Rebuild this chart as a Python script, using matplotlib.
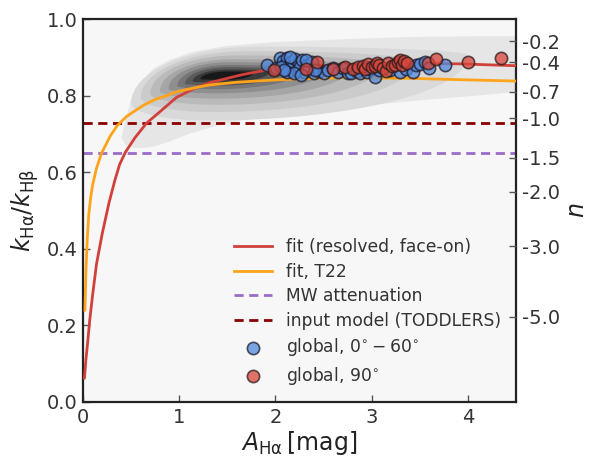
import numpy as np
import matplotlib
matplotlib.use("Agg")
import matplotlib.pyplot as plt
from matplotlib.path import Path
from matplotlib.patches import PathPatch, Polygon

plt.rcParams['font.family'] = ['DejaVu Sans']
plt.rcParams['mathtext.fontset'] = 'dejavusans'

# ---------------- data ----------------
# fitted relations k_Ha/k_Hb vs A_Ha
fit_resolved_x = [0.015, 0.03, 0.05, 0.07, 0.10, 0.14, 0.20, 0.27, 0.33, 0.38, 0.44, 0.54,
                  0.66, 0.80, 0.97, 1.15, 1.32, 1.66, 1.87, 2.2, 2.6, 3.0, 3.5, 3.9, 4.5]
fit_resolved_y = [0.063, 0.11, 0.16, 0.214, 0.28, 0.36, 0.44, 0.52, 0.578, 0.62, 0.652, 0.69,
                  0.728, 0.758, 0.795, 0.818, 0.834, 0.855, 0.865, 0.874, 0.880, 0.883, 0.884, 0.883, 0.878]

fit_t22_x = [0.02, 0.03, 0.045, 0.06, 0.08, 0.10, 0.14, 0.19, 0.28, 0.35, 0.45, 0.52, 0.63,
             0.75, 0.87, 0.97, 1.21, 1.32, 1.6, 2.0, 2.4, 2.7, 3.0, 3.4, 4.0, 4.5]
fit_t22_y = [0.24, 0.34, 0.43, 0.49, 0.535, 0.567, 0.61, 0.648, 0.693, 0.72, 0.745, 0.757, 0.775,
             0.79, 0.80, 0.81, 0.823, 0.828, 0.835, 0.841, 0.845, 0.847, 0.846, 0.845, 0.841, 0.838]

mw_ratio = 0.65          # MW attenuation
toddlers_ratio = 0.728   # input model (TODDLERS)

# global measurements, inclinations 0-60 deg
glob_lo_x = [1.91, 2.01, 2.05, 2.08, 2.10, 2.12, 2.14, 2.16, 2.18, 2.20, 2.22, 2.24, 2.26, 2.28,
             2.30, 2.33, 2.35, 2.38, 2.40, 2.06, 2.12, 2.19, 2.27, 2.15, 2.09, 2.45, 2.50, 2.55,
             2.60, 2.65, 2.70, 2.75, 2.79, 2.85, 2.88, 2.95, 2.98, 3.03, 3.08, 3.19, 3.29, 3.36,
             3.43, 3.46, 3.50, 3.55, 3.60, 3.76, 2.32, 2.41]
glob_lo_y = [0.880, 0.871, 0.897, 0.890, 0.880, 0.898, 0.872, 0.887, 0.878, 0.895, 0.865, 0.885,
             0.875, 0.892, 0.862, 0.880, 0.870, 0.888, 0.860, 0.875, 0.862, 0.858, 0.855, 0.900,
             0.868, 0.865, 0.858, 0.868, 0.871, 0.862, 0.871, 0.860, 0.858, 0.865, 0.858, 0.862,
             0.870, 0.849, 0.866, 0.867, 0.862, 0.870, 0.862, 0.880, 0.882, 0.889, 0.871, 0.880,
             0.893, 0.867]

# global measurements, edge-on (90 deg)
glob_hi_x = [1.99, 2.32, 2.43, 2.60, 2.72, 2.81, 2.86, 2.91, 2.93, 2.96, 3.00, 3.03, 3.06, 3.08,
             3.12, 3.15, 3.17, 3.21, 3.24, 3.27, 3.29, 3.31, 3.34, 3.37, 3.59, 3.67, 4.00, 4.34]
glob_hi_y = [0.868, 0.869, 0.887, 0.869, 0.874, 0.869, 0.875, 0.876, 0.870, 0.882, 0.874, 0.878,
             0.884, 0.880, 0.872, 0.865, 0.884, 0.878, 0.881, 0.887, 0.893, 0.879, 0.890, 0.885,
             0.884, 0.895, 0.889, 0.897]

# density of resolved pixels: outermost contour outline
kde_outer_x = [0.40, 0.44, 0.52, 0.62, 0.75, 0.90, 1.10, 1.40, 1.75, 2.10, 2.60, 3.10, 3.60, 4.10, 4.60,
               4.60, 4.10, 3.40, 2.80, 2.00, 1.50, 1.14, 0.90, 0.73, 0.60, 0.50, 0.44]
kde_outer_y = [0.690, 0.672, 0.664, 0.663, 0.668, 0.680, 0.700, 0.722, 0.740, 0.752, 0.765, 0.778,
               0.790, 0.800, 0.812, 0.955, 0.955, 0.953, 0.948, 0.940, 0.930, 0.914, 0.893, 0.870,
               0.835, 0.790, 0.735]

# inner contour levels: left tip, right tip, highest and lowest points
kde_left_x = [0.50, 0.60, 0.70, 0.80, 0.89, 0.98, 1.06, 1.14, 1.22]
kde_left_y = [0.780, 0.795, 0.805, 0.812, 0.818, 0.825, 0.831, 0.837, 0.843]
kde_right_x = [4.00, 3.45, 3.10, 2.80, 2.55, 2.30, 2.10, 1.95, 1.78]
kde_right_y = [0.905, 0.890, 0.883, 0.878, 0.874, 0.871, 0.868, 0.865, 0.862]
kde_top_x = [1.80, 1.70, 1.60, 1.55, 1.50, 1.50, 1.50, 1.50, 1.50]
kde_top_y = [0.928, 0.916, 0.905, 0.895, 0.887, 0.880, 0.874, 0.868, 0.863]
kde_bot_x = [1.30, 1.35, 1.40, 1.40, 1.40, 1.40, 1.45, 1.45, 1.50]
kde_bot_y = [0.735, 0.757, 0.776, 0.792, 0.806, 0.817, 0.826, 0.834, 0.841]
kde_colors = ['#e6e6e6', '#d9d9d9', '#cbcbcb', '#bababa', '#a6a6a6', '#8f8f8f',
              '#767676', '#5a5a5a', '#3a3a3a', '#181818']

n_ticks = [-0.2, -0.4, -0.7, -1.0, -1.5, -2.0, -3.0, -5.0]
lam_ratio = 6563.0 / 4861.0

# ---------------- figure ----------------
fig = plt.figure(figsize=(5.9, 4.59), dpi=100)
ax = fig.add_axes([0.1407, 0.1242, 0.7339, 0.8344])
ax.set_facecolor('#f7f7f7')

ax.add_patch(Polygon(np.column_stack([kde_outer_x, kde_outer_y]), closed=True,
                     facecolor=kde_colors[0], edgecolor='none', zorder=0.5))

K = 0.5523  # quarter-ellipse Bezier constant


def contour_path(xl, yl, xr, yr, xt, yt, xb, yb):
    verts = [(xl, yl),
             (xl, yl + K * (yt - yl)), (xt - K * (xt - xl), yt), (xt, yt),
             (xt + K * (xr - xt), yt), (xr, yr + K * (yt - yr)), (xr, yr),
             (xr, yr - K * (yr - yb)), (xb + K * (xr - xb), yb), (xb, yb),
             (xb - K * (xb - xl), yb), (xl, yl - K * (yl - yb)), (xl, yl),
             (xl, yl)]
    codes = ([Path.MOVETO] + [Path.CURVE4] * 12 + [Path.CLOSEPOLY])
    return Path(verts, codes)


for i in range(len(kde_left_x)):
    p = contour_path(kde_left_x[i], kde_left_y[i], kde_right_x[i], kde_right_y[i],
                     kde_top_x[i], kde_top_y[i], kde_bot_x[i], kde_bot_y[i])
    ax.add_patch(PathPatch(p, facecolor=kde_colors[i + 1], edgecolor='none',
                           zorder=0.6 + 0.01 * i))

dash = (0, (3.3, 2.0))
ax.plot(fit_resolved_x, fit_resolved_y, color='#d1403a', lw=2, zorder=3,
        label='fit (resolved, face-on)')
ax.plot(fit_t22_x, fit_t22_y, color='#ffa31a', lw=2, zorder=3, label='fit, T22')
ax.axhline(mw_ratio, color='#9a6bc8', lw=2, ls=dash, zorder=2, label='MW attenuation')
ax.axhline(toddlers_ratio, color='#8b0000', lw=2, ls=dash, zorder=2,
           label='input model (TODDLERS)')
ax.scatter(glob_lo_x, glob_lo_y, s=78, facecolor='#5289dc', edgecolor='#1a1a2a', lw=1.2,
           alpha=0.75, zorder=4, label=r'global, $0^{\circ}-60^{\circ}$')
ax.scatter(glob_hi_x, glob_hi_y, s=78, facecolor='#d9463c', edgecolor='#2a1a1a', lw=1.2,
           alpha=0.75, zorder=5, label=r'global, $90^{\circ}$')

ax.set_xlim(0, 4.5)
ax.set_ylim(0, 1)
ax.set_xticks([0, 1, 2, 3, 4])
ax.set_yticks([0.0, 0.2, 0.4, 0.6, 0.8, 1.0])
ax.tick_params(direction='in', length=5, width=1, colors='#555555', labelcolor='#333333',
               labelsize=14, pad=4)
ax.tick_params(axis='y', right=False)
for s in ax.spines.values():
    s.set_color('#222222')
    s.set_linewidth(1.6)

ax.set_xlabel(r'$A_{\mathrm{H\alpha}}\,$[mag]', fontsize=17, color='#222222', labelpad=2)
ax.set_ylabel(r'$k_{\mathrm{H\alpha}}/k_{\mathrm{H\beta}}$', fontsize=17, color='#222222', labelpad=4)

ax2 = ax.twinx()
ax2.set_ylim(0, 1)
ax2.set_yticks([lam_ratio ** n for n in n_ticks])
ax2.set_yticklabels(['%.1f' % n for n in n_ticks])
ax2.tick_params(direction='in', length=5, width=1, colors='#555555', labelcolor='#333333',
                labelsize=14, pad=4)
for s in ax2.spines.values():
    s.set_visible(False)
ax2.set_ylabel(r'$n$', fontsize=17, color='#222222', labelpad=4)

leg = ax.legend(loc='lower right', bbox_to_anchor=(1.0, 0.0), frameon=False, fontsize=12.3,
                labelspacing=0.38, handlelength=2.2, handletextpad=0.8, labelcolor='#333333')

fig.savefig('out.png', dpi=100, facecolor='white')
